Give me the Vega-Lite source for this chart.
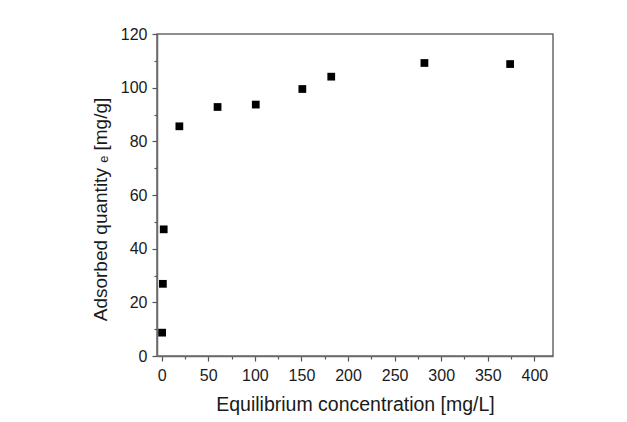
{
  "$schema": "https://vega.github.io/schema/vega-lite/v6.json",
  "autosize": "none",
  "width": 396,
  "height": 322,
  "padding": {"left": 157, "top": 34, "right": 74, "bottom": 66},
  "background": "white",
  "data": {
    "values": [
      {"c": 0.5, "q": 8.7},
      {"c": 1.3, "q": 26.9},
      {"c": 2.2, "q": 47.2},
      {"c": 19, "q": 85.6},
      {"c": 60, "q": 92.8},
      {"c": 101, "q": 93.7},
      {"c": 151, "q": 99.5},
      {"c": 182, "q": 104.1},
      {"c": 282, "q": 109.2},
      {"c": 374, "q": 108.8}
    ]
  },
  "mark": {"type": "point", "shape": "square", "filled": true, "color": "black", "opacity": 1, "size": 60},
  "encoding": {
    "x": {
      "field": "c", "type": "quantitative",
      "scale": {"domain": [-5, 420], "nice": false, "zero": false},
      "axis": {
        "title": "Equilibrium concentration [mg/L]",
        "values": [0, 25, 50, 75, 100, 125, 150, 175, 200, 225, 250, 275, 300, 325, 350, 375, 400],
        "labelExpr": "datum.value % 50 === 0 ? datum.label : ''",
        "tickSize": {"expr": "datum.value % 50 === 0 ? 5 : 3"},
        "grid": false,
        "labelFlush": false,
        "labelOverlap": false,
        "labelPadding": 6,
        "titlePadding": 12,
        "titleFontSize": 19.5
      }
    },
    "y": {
      "field": "q", "type": "quantitative",
      "scale": {"domain": [0, 120], "nice": false},
      "axis": {
        "title": "Adsorbed quantity ₑ [mg/g]",
        "values": [0, 10, 20, 30, 40, 50, 60, 70, 80, 90, 100, 110, 120],
        "labelExpr": "datum.value % 20 === 0 ? datum.label : ''",
        "tickSize": {"expr": "datum.value % 20 === 0 ? 5 : 3"},
        "grid": false,
        "labelFlush": false,
        "labelOverlap": false,
        "labelPadding": 5,
        "titlePadding": 10,
        "titleY": 175
      }
    }
  },
  "config": {
    "view": {"stroke": "#6a6a6a", "strokeWidth": 1.5},
    "axis": {
      "domainColor": "#6a6a6a",
      "domainWidth": 1.5,
      "tickColor": "#555555",
      "tickWidth": 1.2,
      "labelFont": "Liberation Sans",
      "labelFontSize": 16,
      "labelColor": "#1a1a1a",
      "titleFont": "Liberation Sans",
      "titleFontSize": 19,
      "titleFontWeight": "normal",
      "titleColor": "#1a1a1a"
    }
  }
}
